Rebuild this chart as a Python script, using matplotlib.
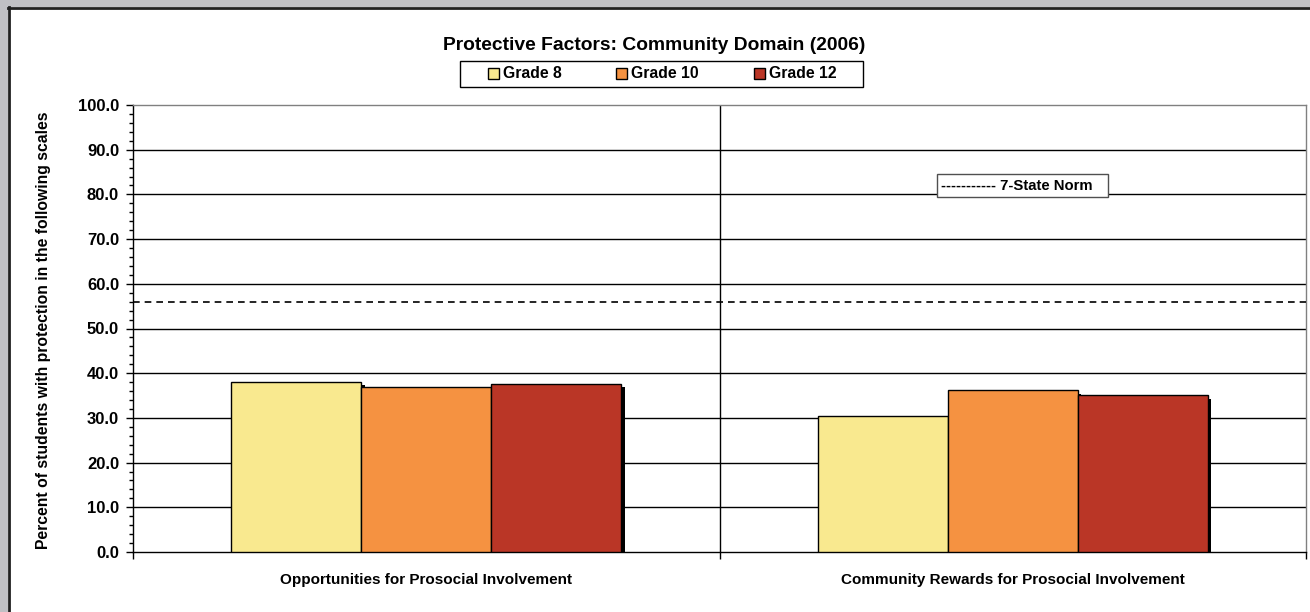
import numpy as np
import matplotlib
matplotlib.use("Agg")
import matplotlib.pyplot as plt
from matplotlib.patches import Rectangle, Patch
from matplotlib.lines import Line2D
import matplotlib.patheffects as pe

plt.rcParams["font.family"] = ["Liberation Sans", "DejaVu Sans"]
plt.rcParams["font.weight"] = "bold"

# Data
categories = ["Opportunities for Prosocial Involvement",
              "Community Rewards for Prosocial Involvement"]
grades = ["Grade 8", "Grade 10", "Grade 12"]
grade8 = [38.1, 30.4]
grade10 = [36.9, 36.2]
grade12 = [37.6, 35.1]
state_norm = 56.0
colors = ["#F9E98F", "#F59241", "#BA3626"]

W, H = 1310, 612
fig = plt.figure(figsize=(W / 100, H / 100), dpi=100)
fig.patch.set_facecolor("#C0C0C4")

def fx(px):
    return px / W

def fy(py):
    return 1 - py / H

# white chart area with dark border at top/left
fig.patches.append(Rectangle((fx(8), 0), 1 - fx(8), fy(7), transform=fig.transFigure,
                             facecolor="white", edgecolor="none", zorder=-10))
fig.lines.append(Line2D([fx(8), 1], [fy(8), fy(8)], transform=fig.transFigure,
                        color="#202020", lw=2, zorder=-5))
fig.lines.append(Line2D([fx(9), fx(9)], [0, fy(7)], transform=fig.transFigure,
                        color="#202020", lw=2, zorder=-5))

left, right, top, bottom = 133, 1306, 105, 552
ax = fig.add_axes([fx(left), fy(bottom), fx(right - left), (bottom - top) / H])
ax.set_facecolor("white")

x = np.arange(len(categories)) + 0.5
bw = 0.2217
series = [grade8, grade10, grade12]
shadow = [pe.SimplePatchShadow(offset=(2.5, -2.5), shadow_rgbFace="black", alpha=1.0),
          pe.Normal()]
for i, (vals, c) in enumerate(zip(series, colors)):
    ax.bar(x + (i - 1) * bw, vals, bw, color=c, edgecolor="black", linewidth=1,
           zorder=3, path_effects=shadow)

ax.set_xlim(0, 2)
ax.set_ylim(0, 100)

# gridlines
for v in range(10, 100, 10):
    ax.axhline(v, color="black", lw=1, zorder=1)
ax.axvline(1, color="black", lw=1, zorder=1)
ax.axhline(state_norm, color="black", lw=1.2, ls=(0, (4, 3)), zorder=4)

ax.spines["left"].set_color("black")
ax.spines["bottom"].set_color("black")
ax.spines["top"].set_color("#808080")
ax.spines["right"].set_color("#808080")
for s in ax.spines.values():
    s.set_linewidth(1)

ax.set_yticks(np.arange(0, 101, 10))
ax.set_yticks(np.arange(0, 101, 2), minor=True)
ax.set_yticklabels([f"{v:.1f}" for v in np.arange(0, 101, 10)], fontsize=12, fontweight="bold")
ax.tick_params(axis="y", which="major", length=5, width=1, direction="out", pad=5)
ax.tick_params(axis="y", which="minor", length=3, width=1, direction="out")

ax.set_xticks([0, 1, 2])
ax.set_xticklabels(["", "", ""])
ax.set_xticks(x, minor=True)
ax.set_xticklabels(categories, minor=True, fontsize=11, fontweight="bold")
ax.tick_params(axis="x", which="major", length=5, width=1, direction="out")
ax.tick_params(axis="x", which="minor", length=0, pad=15)

fig.text(fx(43.5), fy(330), "Percent of students with protection in the following scales",
         rotation=90, ha="center", va="center", fontsize=11.3, fontweight="bold")

fig.text(fx(654), fy(45), "Protective Factors: Community Domain (2006)",
         ha="center", va="center", fontsize=13.9, fontweight="bold")

# legend box drawn separately to match the wide padding
fig.patches.append(Rectangle((fx(460), fy(87)), fx(403), 26 / H, transform=fig.transFigure,
                             facecolor="white", edgecolor="black", lw=1, zorder=5))
handles = [Patch(facecolor=c, edgecolor="black", linewidth=1) for c in colors]
leg = fig.legend(handles, grades, loc="center", bbox_to_anchor=(fx(662), fy(74)),
                 ncol=3, frameon=False, prop={"size": 11.3, "weight": "bold"},
                 handlelength=0.7, handleheight=0.7, handletextpad=0.25,
                 columnspacing=3.5, borderpad=0, borderaxespad=0)
leg.set_zorder(6)

fig.patches.append(Rectangle((fx(937), fy(197)), fx(171), 23 / H, transform=fig.transFigure,
                             facecolor="white", edgecolor="#505050", lw=1, zorder=5))
fig.text(fx(1017), fy(186), "----------- 7-State Norm", ha="center", va="center",
         fontsize=10.7, fontweight="bold", zorder=6)

fig.savefig("out.png", dpi=100, facecolor=fig.get_facecolor())
